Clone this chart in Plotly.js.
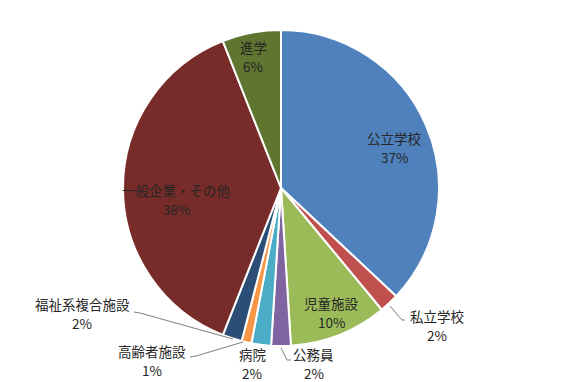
<!DOCTYPE html>
<html>
<head>
<meta charset="utf-8">
<script src="https://cdn.plot.ly/plotly-3.0.1.min.js"></script>
<style>html,body{margin:0;padding:0;background:#fff;}#chart{width:566px;height:382px;}</style>
</head>
<body>
<div id="chart"></div>
<script>
const categories = ["公立学校", "私立学校", "児童施設", "公務員", "病院", "高齢者施設", "福祉系複合施設", "一般企業・その他", "進学"];
const shares = [37, 2, 10, 2, 2, 1, 2, 38, 6];
const sliceColors = ["#4F81BD", "#C0504D", "#9BBB59", "#8064A2", "#4BACC6", "#F79646", "#2C4D75", "#772C2A", "#5F7530"];

// label anchor positions (pixels, centre between the two text lines) and leader lines (pixels)
const labelPos = [[394,147],[437,325],[331,312],[314,363],[252,363],[152,360],[82,313],[176,199],[253,56]];
const leaders = {
  1: [[390,306],[402,320],[405,320]],
  3: [[281,348],[287,360],[291,360]],
  5: [[243,342],[196,356],[190,357]],
  6: [[233,339],[140,313],[134,312]]
};

const W = 566, H = 382;
const px = x => x / W, py = y => 1 - y / H;
const font = {family: '"Noto Sans CJK JP", sans-serif', size: 13.5, color: '#262626'};

const annotations = [];
categories.forEach((c, i) => {
  const [lx, ly] = labelPos[i];
  annotations.push({x: px(lx), y: py(ly - 9), xref: 'paper', yref: 'paper', text: c,
    showarrow: false, xanchor: 'center', yanchor: 'middle', font: font});
  annotations.push({x: px(lx), y: py(ly + 10), xref: 'paper', yref: 'paper', text: shares[i] + '%',
    showarrow: false, xanchor: 'center', yanchor: 'middle', font: font});
});

const shapes = Object.keys(leaders).map(k => {
  const pts = leaders[k];
  const path = pts.map((p, j) => (j ? 'L' : 'M') + px(p[0]) + ',' + py(p[1])).join(' ');
  return {type: 'path', xref: 'paper', yref: 'paper', path: path, line: {color: '#7f7f7f', width: 1}};
});

Plotly.newPlot('chart', [{
  type: 'pie',
  labels: categories,
  values: shares,
  sort: false,
  direction: 'clockwise',
  rotation: 0,
  textinfo: 'none',
  hoverinfo: 'label+percent',
  marker: {colors: sliceColors, line: {color: '#ffffff', width: 2}},
  domain: {x: [123/566, 439/566], y: [1 - 346/382, 1 - 30/382]}
}], {
  width: W, height: H,
  margin: {l: 0, r: 0, t: 0, b: 0},
  showlegend: false,
  paper_bgcolor: '#ffffff',
  annotations: annotations,
  shapes: shapes
}, {displayModeBar: false, staticPlot: true});
</script>
</body>
</html>
